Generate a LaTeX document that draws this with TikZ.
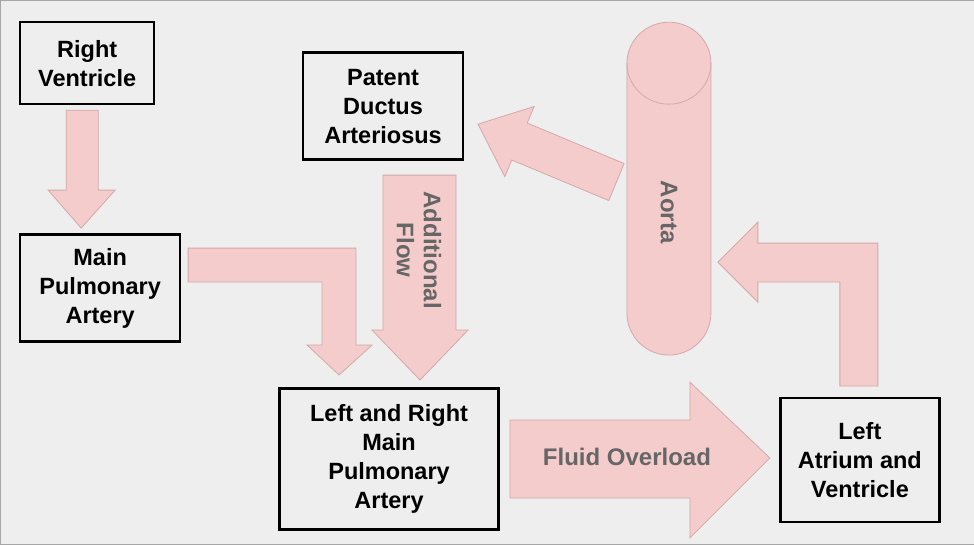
\documentclass[tikz,border=0pt]{standalone}
\usepackage{fontspec}
\setmainfont{Liberation Sans}
\begin{document}
\begin{tikzpicture}[x=1pt,y=-1pt,
  box/.style={draw=black,line width=2.5pt,align=center,font=\fontsize{23.5}{29}\selectfont\bfseries},
  arr/.style={fill=pinkf,draw=pinkd,line width=0.8pt},
  lab/.style={text=labg,font=\fontsize{24}{27}\selectfont\bfseries,align=center}]
\definecolor{pinkf}{HTML}{F4CCCC}
\definecolor{pinkd}{HTML}{D4A8A8}
\definecolor{labg}{HTML}{666666}
\definecolor{bg}{HTML}{EEEEEE}
\fill[bg,draw=gray!70] (0,0) rectangle (974,544);
\useasboundingbox (0,0) rectangle (974,544);
% arrows
\draw[arr] (66,110)--(98,110)--(98,190)--(115,190)--(81,228)--(48,190)--(66,190)--cycle;
\draw[arr] (188,248)--(356,248)--(356,345)--(372,345)--(339,375)--(307,345)--(322,345)--(322,282)--(188,282)--cycle;
\draw[arr] (383,175)--(456,175)--(456,330)--(468,330)--(420,380)--(372,330)--(383,330)--cycle;
\draw[arr] (510,420)--(690,420)--(690,382)--(770,458)--(690,538)--(690,498)--(510,498)--cycle;
\draw[arr] (840,386)--(840,282)--(758,282)--(758,302)--(718,262)--(758,222)--(758,243)--(878,243)--(878,386)--cycle;
\draw[arr] (478,124)--(534.2,106.3)--(527.2,122.9)--(624.2,163.4)--(608.8,200.4)--(511.8,159.9)--(504.8,176.5)--cycle;
% aorta
\draw[arr] (627,63) arc[start angle=180,end angle=360,x radius=42,y radius=41] -- (711,313) arc[start angle=0,end angle=180,x radius=42,y radius=42] -- cycle;
\draw[pinkd,line width=0.8pt] (627,63) arc[start angle=180,end angle=0,x radius=42,y radius=41];
\node[lab,rotate=-90] (aorta) at (669,212) {Aorta};
% boxes
\node[box,minimum width=134pt,minimum height=82pt] (rv) at (87,63) {Right\\Ventricle};
\node[box,minimum width=160pt,minimum height=107pt] (pda) at (383,106) {Patent\\Ductus\\Arteriosus};
\node[box,minimum width=160pt,minimum height=107pt] (mpa) at (100,288) {Main\\Pulmonary\\Artery};
\node[box,minimum width=219pt,minimum height=141pt] (lr) at (389,459) {Left and Right\\Main\\Pulmonary\\Artery};
\node[box,minimum width=159pt,minimum height=124pt] (la) at (860,460) {Left\\Atrium and\\Ventricle};
\node[lab,rotate=-90] (add) at (419,250) {Additional\\Flow};
\node[lab] (fo) at (627,457) {Fluid Overload};
\end{tikzpicture}
\end{document}
